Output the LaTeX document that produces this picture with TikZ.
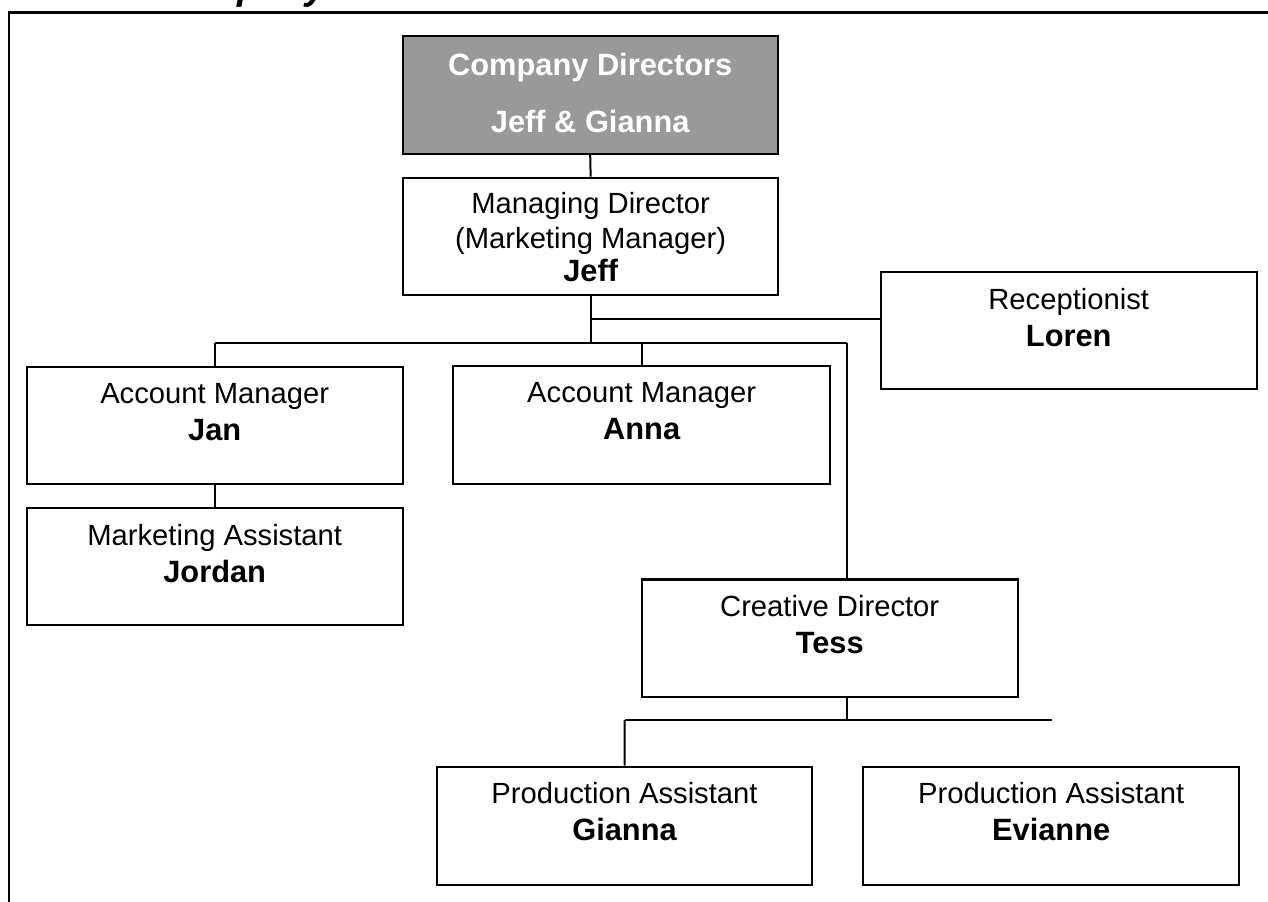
\documentclass[tikz,border=0pt]{standalone}
\usepackage{fontspec}
\setmainfont{Liberation Sans}
\usetikzlibrary{fit,calc}
\definecolor{dirgray}{RGB}{153,153,153}

% a staff box: name, corners (x1,y1) (x2,y2), job title, person
\newcommand\orgbox[7]{%
  \node[box, fit={(#2,#3) (#4,#5)}] (#1) {};
  \node[role] (#1-r) at ($(#1.north)+(0,38)$) {#6};
  \node[who]  (#1-w) at ($(#1.north)+(0,75)$) {#7};
}

\begin{document}
\begin{tikzpicture}[x=0.5pt,y=-0.5pt,
  box/.style={draw=black, line width=1.1pt, inner sep=0pt, rectangle},
  role/.style={anchor=base, inner sep=0pt, font=\fontsize{14.6}{17}\selectfont},
  who/.style={anchor=base, inner sep=0pt, font=\fontsize{15.4}{18}\selectfont\bfseries},
  conn/.style={draw=black, line width=1pt},
  frameline/.style={draw=black, line width=1.1pt},
]
\useasboundingbox (0,0) rectangle (1268,901);
\clip (0,0) rectangle (1268,901);

% page heading, running off the top of the sheet
\node[anchor=base west, inner sep=0pt,
      font=\fontsize{19}{21}\selectfont\bfseries\itshape] (title) at (153,-1) {Company};

% surrounding frame
\draw[frameline] (9.3,940) -- (9.3,12.5) -- (1300,12.5);

% directors
\node[box, fill=dirgray, fit={(402.7,36) (777.7,154)}] (dirs) {};
\node[who, text=white] (dirs-r) at ($(dirs.north)+(0,41)$) {Company Directors};
\node[who, text=white] (dirs-w) at ($(dirs.north)+(0,98)$) {Jeff \& Gianna};

% managing director
\node[box, fit={(403,177.7) (778.3,295)}] (md) {};
\node[role] (md-r1) at ($(md.north)+(0,37)$) {Managing Director};
\node[role] (md-r2) at ($(md.north)+(0,72)$) {(Marketing Manager)};
\node[who]  (md-w)  at ($(md.north)+(0,105)$) {Jeff};

\orgbox{recep}{880.7}{272.3}{1256.7}{389.3}{Receptionist}{Loren}
\orgbox{jan}{26.7}{366.7}{402.7}{484}{Account Manager}{Jan}
\orgbox{anna}{453.3}{366}{830}{484.3}{Account Manager}{Anna}
\orgbox{jordan}{26.7}{508.3}{402.7}{625}{Marketing Assistant}{Jordan}
\orgbox{cd}{641.7}{579.5}{1017.7}{696.7}{Creative Director}{Tess}
\orgbox{gianna}{436.7}{766.7}{812.3}{885}{Production Assistant}{Gianna}
\orgbox{evianne}{863}{767}{1239.3}{885}{Production Assistant}{Evianne}

% connector junctions
\coordinate (busL) at (214.7,342.7);
\coordinate (busR) at (846.7,342.7);
\coordinate (tap)  at (590.7,319.3);
\coordinate (lowL) at (624.5,720);
\coordinate (lowR) at (1052,720);

\draw[conn] (dirs.south) -- (md.north);
\draw[conn] (md.south) -- (md.south |- busL);
\draw[conn] (tap) -- (tap -| recep.west);
\draw[conn] (busL) -- (busR);
\draw[conn] (busL) -- (jan.north);
\draw[conn] (anna.north |- busL) -- (anna.north);
\draw[conn] (busR) -- (busR |- cd.north);
\draw[conn] (jan.south) -- (jordan.north);
\draw[conn] (busR |- cd.south) -- (busR |- lowL);
\draw[conn] (lowL) -- (lowR);
\draw[conn] (lowL) -- (gianna.north);
\end{tikzpicture}
\end{document}
